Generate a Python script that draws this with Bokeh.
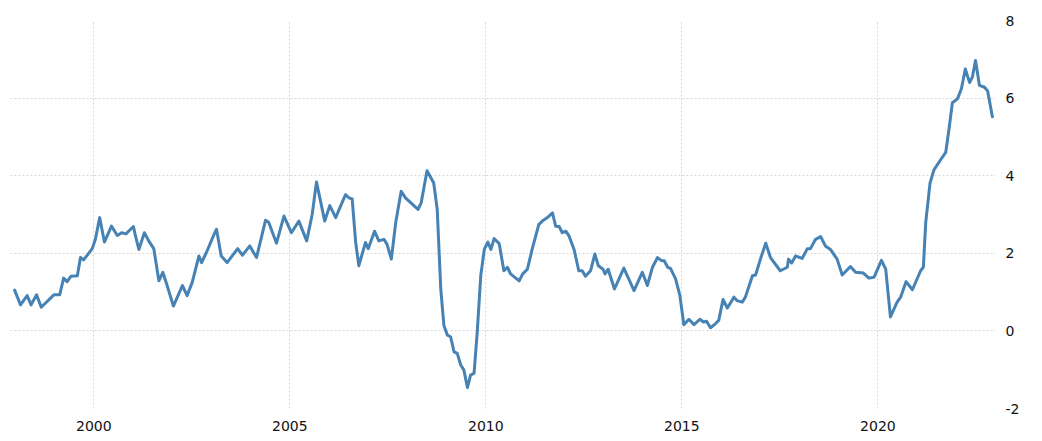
from bokeh.plotting import figure
from bokeh.models import Range1d, FixedTicker
from bokeh.embed import file_html
from bokeh.resources import INLINE

# decimal year of each reading
years = [
    1997.98, 1998.13, 1998.30, 1998.40, 1998.54, 1998.66, 1998.77, 1998.98, 1999.13, 1999.23,
    1999.32, 1999.42, 1999.58, 1999.66, 1999.74, 1999.96, 2000.04, 2000.15, 2000.27, 2000.45,
    2000.60, 2000.71, 2000.82, 2000.92, 2001.01, 2001.06, 2001.15, 2001.29, 2001.40, 2001.53,
    2001.66, 2001.76, 2001.87, 2002.03, 2002.26, 2002.38, 2002.51, 2002.68, 2002.75, 2002.89,
    2003.05, 2003.13, 2003.25, 2003.40, 2003.67, 2003.79, 2003.98, 2004.15, 2004.38, 2004.46,
    2004.66, 2004.85, 2005.04, 2005.23, 2005.43, 2005.57, 2005.68, 2005.89, 2006.02, 2006.17,
    2006.42, 2006.51, 2006.59, 2006.68, 2006.76, 2006.93, 2007.00, 2007.16, 2007.27, 2007.40,
    2007.48, 2007.59, 2007.70, 2007.84, 2007.95, 2008.27, 2008.35, 2008.50, 2008.67, 2008.76,
    2008.85, 2008.93, 2009.02, 2009.10, 2009.19, 2009.27, 2009.36, 2009.44, 2009.53, 2009.61,
    2009.70, 2009.78, 2009.87, 2009.96, 2010.05, 2010.13, 2010.21, 2010.34, 2010.46, 2010.55,
    2010.63, 2010.85, 2010.94, 2011.06, 2011.18, 2011.35, 2011.44, 2011.57, 2011.70, 2011.78,
    2011.87, 2011.95, 2012.04, 2012.12, 2012.25, 2012.37, 2012.46, 2012.54, 2012.67, 2012.78,
    2012.87, 2012.99, 2013.04, 2013.12, 2013.28, 2013.52, 2013.78, 2013.99, 2014.12, 2014.25,
    2014.38, 2014.48, 2014.55, 2014.64, 2014.71, 2014.84, 2014.95, 2015.05, 2015.18, 2015.31,
    2015.46, 2015.55, 2015.63, 2015.73, 2015.86, 2015.94, 2016.05, 2016.16, 2016.33, 2016.41,
    2016.54, 2016.62, 2016.80, 2016.88, 2017.01, 2017.14, 2017.26, 2017.51, 2017.69, 2017.72,
    2017.80, 2017.90, 2018.07, 2018.20, 2018.28, 2018.41, 2018.54, 2018.66, 2018.79, 2018.96,
    2019.09, 2019.30, 2019.43, 2019.63, 2019.77, 2019.90, 2020.09, 2020.20, 2020.32, 2020.49,
    2020.58, 2020.72, 2020.88, 2021.09, 2021.16, 2021.22, 2021.33, 2021.43, 2021.60, 2021.73,
    2021.81, 2021.90, 2022.03, 2022.13, 2022.23, 2022.34, 2022.41, 2022.49, 2022.59, 2022.72,
    2022.80, 2022.92,
]

# inflation rate, percent
rate = [
    1.05, 0.67, 0.91, 0.67, 0.93, 0.61, 0.72, 0.93, 0.93, 1.36,
    1.27, 1.41, 1.42, 1.89, 1.83, 2.12, 2.36, 2.92, 2.29, 2.70,
    2.46, 2.53, 2.50, 2.60, 2.69, 2.46, 2.10, 2.53, 2.32, 2.12,
    1.29, 1.51, 1.17, 0.64, 1.17, 0.91, 1.25, 1.93, 1.76, 2.06,
    2.45, 2.62, 1.93, 1.76, 2.12, 1.95, 2.19, 1.89, 2.85, 2.80,
    2.26, 2.96, 2.53, 2.83, 2.32, 3.00, 3.84, 2.83, 3.23, 2.92,
    3.51, 3.43, 3.40, 2.28, 1.68, 2.28, 2.12, 2.57, 2.32, 2.36,
    2.23, 1.85, 2.79, 3.60, 3.43, 3.13, 3.30, 4.13, 3.81, 3.13,
    1.08, 0.14, -0.11, -0.15, -0.54, -0.58, -0.88, -1.01, -1.46, -1.14,
    -1.09, -0.03, 1.42, 2.10, 2.29, 2.10, 2.38, 2.25, 1.55, 1.64,
    1.47, 1.29, 1.47, 1.59, 2.10, 2.74, 2.83, 2.92, 3.04, 2.70,
    2.69, 2.53, 2.57, 2.45, 2.10, 1.55, 1.55, 1.41, 1.55, 1.98,
    1.68, 1.59, 1.47, 1.59, 1.08, 1.62, 1.04, 1.51, 1.17, 1.64,
    1.89, 1.81, 1.81, 1.64, 1.61, 1.34, 0.91, 0.16, 0.30, 0.16,
    0.30, 0.23, 0.25, 0.08, 0.19, 0.27, 0.81, 0.59, 0.87, 0.78,
    0.74, 0.87, 1.42, 1.44, 1.87, 2.26, 1.89, 1.55, 1.64, 1.85,
    1.75, 1.93, 1.87, 2.12, 2.12, 2.36, 2.43, 2.19, 2.10, 1.85,
    1.44, 1.66, 1.51, 1.49, 1.36, 1.38, 1.82, 1.59, 0.36, 0.74,
    0.87, 1.27, 1.06, 1.55, 1.64, 2.79, 3.81, 4.15, 4.41, 4.60,
    5.17, 5.88, 5.98, 6.24, 6.75, 6.40, 6.54, 6.97, 6.33, 6.28,
    6.18, 5.52,
]

x_ticks = [2000, 2005, 2010, 2015, 2020]
y_ticks = [-2, 0, 2, 4, 6, 8]

p = figure(
    width=1034, height=433,
    output_backend="svg", toolbar_location=None,
    x_range=Range1d(1997.875, 2023.0), y_range=Range1d(-2, 8),
    y_axis_location="right",
    min_border_left=10, min_border_right=39, min_border_top=20, min_border_bottom=23,
)
p.outline_line_color = None
p.background_fill_color = "white"
p.border_fill_color = "white"

p.line(years, rate, line_color="#4682B4", line_width=3, line_join="round", line_cap="round")

for ax in (p.xaxis, p.yaxis):
    ax.axis_line_color = None
    ax.major_tick_line_color = None
    ax.minor_tick_line_color = None
    ax.major_label_text_font = "DejaVu Sans"
    ax.major_label_text_font_size = "14px"
    ax.major_label_text_color = "#111111"

p.xaxis.ticker = FixedTicker(ticks=x_ticks)
p.xaxis.major_label_overrides = {t: str(t) for t in x_ticks}
p.xaxis.major_label_standoff = 6
p.yaxis.ticker = FixedTicker(ticks=y_ticks)
p.yaxis.major_label_overrides = {t: str(t) for t in y_ticks}
p.yaxis.major_label_standoff = 4

p.xgrid.ticker = FixedTicker(ticks=x_ticks)
p.ygrid.ticker = FixedTicker(ticks=y_ticks)
for g in (p.xgrid, p.ygrid):
    g.grid_line_color = "#d6d6d6"
    g.grid_line_dash = "2 2"
    g.grid_line_width = 1

open("out.html", "w").write(file_html(p, INLINE))
